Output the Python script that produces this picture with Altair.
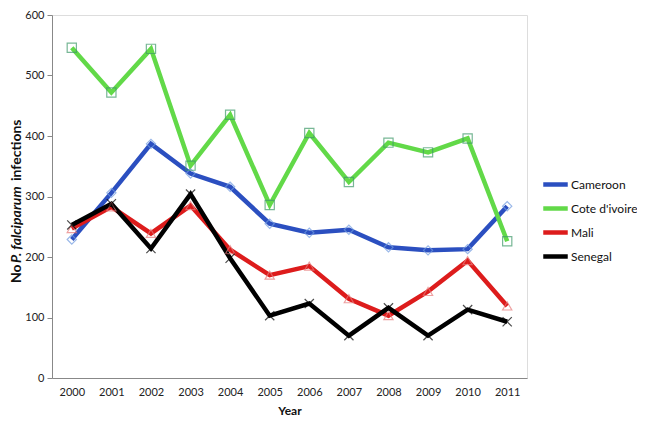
import altair as alt
import pandas as pd

years = ["2000", "2001", "2002", "2003", "2004", "2005", "2006", "2007", "2008", "2009", "2010", "2011"]
cameroon = [229, 306, 387, 338, 316, 255, 240, 245, 216, 211, 213, 284]
cote = [546, 472, 544, 351, 435, 286, 405, 324, 389, 373, 396, 226]
mali = [247, 283, 239, 285, 212, 170, 185, 131, 103, 143, 194, 119]
senegal = [253, 288, 214, 304, 198, 103, 123, 70, 116, 70, 113, 93]

countries = ["Cameroon", "Cote d'ivoire", "Mali", "Senegal"]
series = [cameroon, cote, mali, senegal]
line_colors = ["#2b4fc0", "#62d948", "#dd1c1c", "#000000"]
marker_colors = ["#6f9ae0", "#3f9a6a", "#e77a7a", "#000000"]
shapes = ["diamond", "square", "triangle-up", "M-1,-1L1,1M-1,1L1,-1"]

rows = []
for c, vals in zip(countries, series):
    for y, v in zip(years, vals):
        rows.append({"Year": y, "Country": c, "Value": v})
df = pd.DataFrame(rows)

FONT = "Lato"

x_enc = alt.X("Year:O", sort=years, title="Year",
              axis=alt.Axis(labelAngle=0, ticks=False, domainColor="#888888",
                            labelFontSize=11, labelColor="#222222", labelPadding=8,
                            titleFontSize=12, titleFontWeight="bold", titlePadding=8,
                            titleColor="#111111"),
              scale=alt.Scale(paddingInner=0, paddingOuter=0.5))
y_enc = alt.Y("Value:Q", title=None,
              scale=alt.Scale(domain=[0, 600], nice=False),
              axis=alt.Axis(values=[0, 100, 200, 300, 400, 500, 600], grid=False,
                            domainColor="#888888", tickColor="#888888", tickSize=5,
                            labelFontSize=11, labelColor="#222222", labelPadding=3))

lines = alt.Chart(df).mark_line(strokeWidth=4.5).encode(
    x=x_enc, y=y_enc,
    color=alt.Color("Country:N", sort=countries,
                    scale=alt.Scale(domain=countries, range=line_colors),
                    legend=alt.Legend(title=None, orient="none", legendX=489, legendY=155,
                                      symbolType="stroke", symbolStrokeWidth=4.5,
                                      symbolSize=600, rowPadding=-1, labelOffset=1,
                                      labelFontSize=12, labelColor="#111111", labelFont=FONT)),
    order=alt.Order("Year:O"),
)

point_layers = []
for c, col, shp in zip(countries, marker_colors, shapes):
    point_layers.append(
        alt.Chart(df).transform_filter(alt.datum.Country == c)
        .mark_point(filled=False, size=85, strokeWidth=1.2, shape=shp, color=col)
        .encode(x=alt.X("Year:O", sort=years), y=alt.Y("Value:Q"))
    )

t1 = alt.Chart(pd.DataFrame({"t": ["No"]})).mark_text(
    angle=270, align="left", baseline="middle", fontWeight="bold", fontSize=14, font=FONT, color="#111111"
).encode(x=alt.value(-35), y=alt.value(268), text="t:N")
t2 = alt.Chart(pd.DataFrame({"t": ["P. falciparum"]})).mark_text(
    angle=270, align="left", baseline="middle", fontWeight="bold", fontStyle="italic", fontSize=14, font=FONT, color="#111111"
).encode(x=alt.value(-35), y=alt.value(248), text="t:N")
t3 = alt.Chart(pd.DataFrame({"t": ["infections"]})).mark_text(
    angle=270, align="left", baseline="middle", fontWeight="bold", fontSize=14, font=FONT, color="#111111"
).encode(x=alt.value(-35), y=alt.value(166), text="t:N")

chart = alt.layer(lines, *point_layers, t1, t2, t3).properties(
    width=475, height=363,
    padding={"left": 44, "top": 7, "right": 110, "bottom": 40},
    autosize=alt.AutoSizeParams(type="none"),
    background="white",
).configure_view(stroke=None).configure(font=FONT)

chart.save("out.html", embed_options={"renderer": "svg", "actions": False})
